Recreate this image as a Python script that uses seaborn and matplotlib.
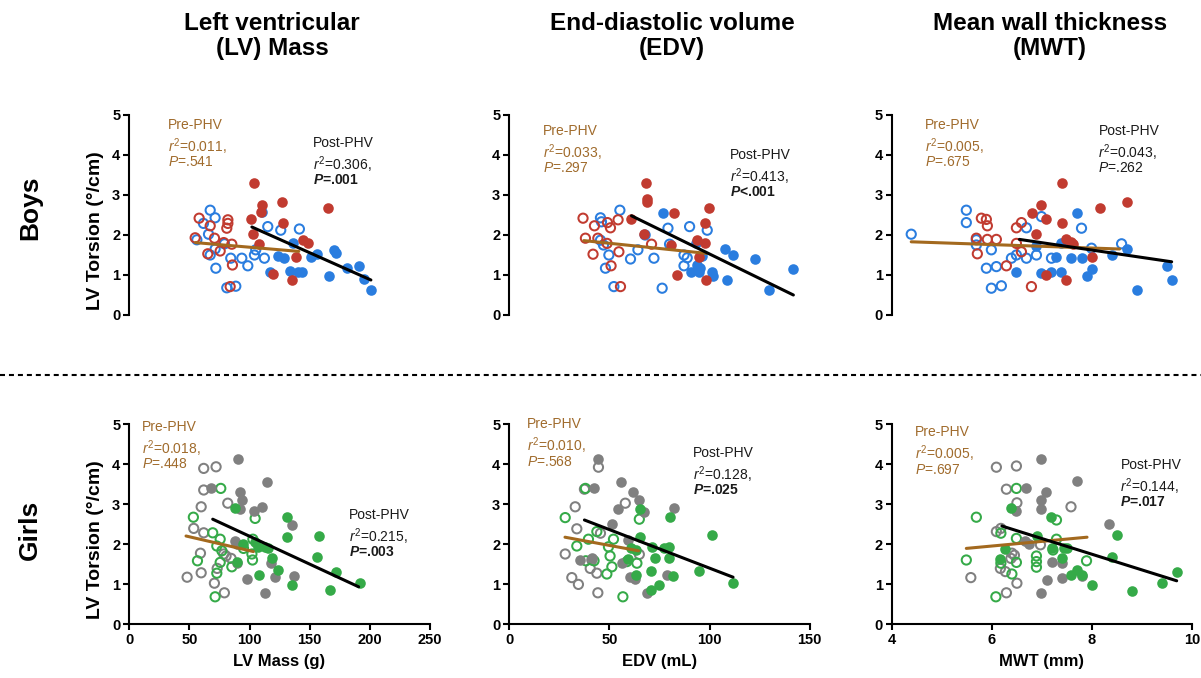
import seaborn as sns
import matplotlib.pyplot as plt
import pandas as pd
from matplotlib.lines import Line2D

sns.set_style("ticks")
plt.rcParams['font.family'] = ['Liberation Sans', 'DejaVu Sans']
plt.rcParams['text.color'] = 'black'
plt.rcParams['axes.labelcolor'] = 'black'
plt.rcParams['mathtext.fontset'] = 'custom'
plt.rcParams['mathtext.rm'] = 'Liberation Sans'
plt.rcParams['mathtext.it'] = 'Liberation Sans:italic'
plt.rcParams['mathtext.bf'] = 'Liberation Sans:bold'
plt.rcParams['mathtext.bfit'] = 'Liberation Sans:italic:bold'

# ---------------- data (x, LV torsion) ----------------
# Boys, LV mass (g)
bm_blue_pre = [(56.2, 1.88), (61.7, 2.29), (65.9, 2.02), (67.3, 2.62), (71.4, 2.43), (67.3, 1.5), (71.4, 1.65),
               (72, 1.17), (79.2, 1.78), (84.4, 1.42), (81.1, 0.68), (88.6, 0.72), (93.6, 1.42), (98.6, 1.23),
               (104.1, 1.5), (105.2, 1.63), (112.4, 1.42), (115.2, 2.21), (126, 2.12), (141.5, 2.15)]
bm_blue_post = [(110.7, 2.58), (117.1, 1.08), (124, 1.48), (129, 1.43), (133.7, 1.1), (136.5, 1.79), (140.6, 1.07),
                (143.4, 1.07), (151, 1.45), (156, 1.52), (166, 0.98), (170, 1.63), (172, 1.55), (181, 1.17),
                (191, 1.22), (195, 0.89), (201, 0.62)]
bm_red_pre = [(58.1, 2.42), (54.8, 1.93), (67.3, 2.23), (65.3, 1.53), (70.9, 1.92), (75.6, 1.6), (78.6, 1.81),
              (82, 2.38), (82, 2.29), (81.1, 2.17), (85.3, 1.77), (85.8, 1.25), (83.9, 0.71)]
bm_red_post = [(103.8, 3.29), (110.2, 2.75), (109.6, 2.57), (101.3, 2.4), (126.8, 2.83), (127.6, 2.31), (103.2, 2.02),
               (108, 1.77), (119.9, 1.02), (135.1, 0.875), (138.7, 1.46), (144.8, 1.88), (148.4, 1.81), (165.5, 2.68)]
bm_pre_fit_x, bm_pre_fit_y = [55, 141], [1.81, 1.59]
bm_post_fit_x, bm_post_fit_y = [102, 201], [2.2, 0.875]

# Boys, EDV (mL)
be_blue_pre = [(45.5, 2.43), (46, 2.33), (55.2, 2.62), (79.2, 2.17), (90, 2.21), (98.8, 2.12), (67.8, 2.0),
               (80, 1.77), (64.2, 1.63), (60.5, 1.4), (72.2, 1.42), (49.7, 1.5), (48, 1.17), (52.2, 0.71),
               (76.3, 0.67), (87.2, 1.5), (88.8, 1.43), (87.2, 1.23), (45.5, 1.87), (47, 1.75)]
be_blue_post = [(76.8, 2.56), (90.5, 1.07), (94.7, 1.08), (93.8, 1.25), (95.2, 1.17), (101.3, 1.07), (101.8, 0.98),
                (107.5, 1.64), (111.7, 1.5), (108.8, 0.875), (122.5, 1.39), (129.7, 0.625), (141.8, 1.14),
                (96, 1.47), (93, 1.79)]
be_red_pre = [(36.8, 2.42), (38, 1.92), (42.5, 2.23), (41.8, 1.52), (44.2, 1.92), (49, 2.31), (50.5, 2.18),
              (48.8, 1.79), (54.3, 2.38), (54.7, 1.58), (50.8, 1.23), (55.5, 0.71), (71, 1.77)]
be_red_post = [(60.5, 2.39), (68, 3.29), (68.5, 2.9), (68.5, 2.82), (82.2, 2.56), (99.8, 2.67), (97.7, 2.29),
               (93.5, 1.87), (97.7, 1.81), (94.7, 1.46), (83.8, 1.0), (98, 0.875), (67, 2.02), (80.5, 1.75)]
be_pre_fit_x, be_pre_fit_y = [37.2, 98.5], [1.86, 1.54]
be_post_fit_x, be_post_fit_y = [61, 141.8], [2.48, 0.5]

# Boys, MWT (mm)
bw_blue_pre = [(4.39, 2.02), (5.49, 2.62), (5.49, 2.31), (5.69, 1.88), (5.69, 1.75), (5.99, 1.63), (5.89, 1.17),
               (6.09, 1.21), (5.99, 0.67), (6.19, 0.73), (6.39, 1.42), (6.49, 1.5), (6.69, 1.42), (6.69, 2.18),
               (6.89, 1.5), (6.99, 2.46), (7.19, 1.42), (7.79, 2.17), (7.99, 1.67), (8.59, 1.78)]
bw_blue_post = [(6.49, 1.08), (6.99, 1.06), (7.19, 1.07), (7.39, 1.07), (7.29, 1.46), (7.59, 1.42), (7.79, 1.42),
                (7.69, 2.56), (7.89, 0.98), (7.99, 1.14), (7.39, 1.79), (6.89, 1.72), (8.39, 1.5), (8.69, 1.64),
                (9.49, 1.22), (9.59, 0.875), (8.89, 0.625)]
bw_red_pre = [(5.79, 2.42), (5.89, 2.39), (5.91, 2.23), (5.69, 1.92), (5.91, 1.89), (6.09, 1.89), (5.71, 1.53),
              (6.29, 1.23), (6.49, 2.18), (6.59, 2.31), (6.49, 1.79), (6.59, 1.58), (6.79, 0.71)]
bw_red_post = [(7.41, 3.29), (6.99, 2.75), (6.81, 2.56), (7.09, 2.39), (7.41, 2.31), (6.89, 2.02), (7.49, 1.89),
               (7.59, 1.83), (7.62, 1.78), (7.09, 1.0), (7.49, 0.875), (7.99, 1.46), (8.16, 2.67), (8.69, 2.83)]
bw_pre_fit_x, bw_pre_fit_y = [4.39, 8.55], [1.83, 1.65]
bw_post_fit_x, bw_post_fit_y = [6.55, 9.59], [1.89, 1.33]

# Girls, LV mass (g)
gm_gray_pre = [(61.9, 3.89), (72.2, 3.93), (61.9, 3.35), (59.8, 2.93), (53.6, 2.39), (61.9, 2.28), (81.9, 3.02),
               (59.2, 1.77), (59.8, 1.28), (48.1, 1.17), (73.1, 1.39), (70.8, 1.02), (79.1, 0.78), (78.6, 1.75),
               (84.7, 1.64), (80.5, 1.7)]
gm_gray_post = [(90.2, 4.12), (68.3, 3.39), (92.5, 3.31), (93.9, 3.1), (114.7, 3.56), (91.7, 2.87), (103.6, 2.83),
                (110.6, 2.92), (135.5, 2.48), (88.3, 2.08), (90, 2.0), (89.7, 1.52), (98.1, 1.12), (117.5, 1.53),
                (120.8, 1.17), (136.9, 1.2), (113.3, 0.77)]
gm_green_pre = [(53.3, 2.67), (56.7, 1.58), (69.4, 2.28), (75.6, 2.12), (76.1, 3.39), (72.8, 1.95), (77, 1.83),
                (75.6, 1.54), (72.8, 1.27), (71.4, 0.68), (85.3, 1.43), (104.7, 2.64), (102.8, 2.12), (102, 1.75),
                (102.5, 1.6), (95, 1.89)]
gm_green_post = [(88.3, 2.89), (131.4, 2.68), (131.4, 2.18), (157.5, 2.2), (156.4, 1.67), (104.2, 2.06), (107, 1.93),
                 (112.5, 1.92), (115.6, 1.91), (118.9, 1.64), (123.6, 1.35), (107.8, 1.22), (135, 0.98),
                 (172.2, 1.31), (166.7, 0.85), (191.7, 1.02), (95, 2.0), (90, 1.54)]
gm_pre_fit_x, gm_pre_fit_y = [47.2, 103.3], [2.2, 1.81]
gm_post_fit_x, gm_post_fit_y = [69.4, 190.8], [2.62, 0.93]

# Girls, EDV (mL)
ge_gray_pre = [(44.5, 3.92), (37.5, 3.37), (32.9, 2.93), (57.9, 3.02), (33.7, 2.38), (27.9, 1.75), (31.2, 1.16),
               (34.5, 0.99), (40.4, 1.39), (41.2, 1.6), (43.7, 1.27), (44.2, 0.78), (64.9, 1.74), (45.5, 2.27)]
ge_gray_post = [(44.5, 4.12), (42.3, 3.39), (55.9, 3.56), (61.5, 3.31), (64.5, 3.1), (54.2, 2.87), (67, 2.81),
                (82, 2.91), (51.2, 2.5), (35.3, 1.6), (56.5, 1.52), (60.3, 1.18), (62.9, 1.12), (78.7, 1.23),
                (68.7, 0.77), (59.2, 2.1), (41.2, 1.64)]
ge_green_pre = [(27.9, 2.66), (38, 3.39), (43.7, 2.31), (39.5, 2.12), (33.7, 1.95), (52, 2.12), (49.5, 1.93),
                (50.3, 1.7), (38.2, 1.58), (51.2, 1.43), (48.7, 1.25), (64.9, 2.62), (63.7, 1.52), (58.7, 1.56),
                (56.7, 0.68), (42.3, 1.58)]
ge_green_post = [(65.3, 2.87), (80.3, 2.68), (65.3, 2.18), (60.8, 1.89), (63.2, 1.85), (71.2, 1.92), (77, 1.89),
                 (79.5, 1.93), (72.8, 1.64), (79.8, 1.66), (59.2, 1.62), (70.8, 1.33), (63.2, 1.22), (81.7, 1.2),
                 (74.8, 0.98), (70.8, 0.85), (94.5, 1.33), (101.2, 2.22), (111.7, 1.02)]
ge_pre_fit_x, ge_pre_fit_y = [27.8, 64.5], [2.17, 1.83]
ge_post_fit_x, ge_post_fit_y = [37.5, 111.7], [2.6, 1.17]

# Girls, MWT (mm)
gw_gray_pre = [(6.09, 3.92), (6.49, 3.95), (6.29, 3.37), (6.5, 3.03), (6.09, 2.31), (6.18, 2.39), (5.58, 1.16),
               (6.17, 1.39), (6.27, 1.31), (6.29, 0.78), (6.5, 1.02), (6.4, 1.77), (6.38, 1.64), (7.58, 2.93),
               (6.97, 1.98), (6.45, 1.72)]
gw_gray_post = [(6.98, 4.12), (6.69, 3.39), (7.09, 3.31), (6.98, 3.1), (7.69, 3.58), (6.49, 2.83), (6.98, 2.87),
                (8.33, 2.5), (6.66, 2.07), (6.75, 2.0), (7.2, 1.56), (7.4, 1.53), (7.8, 1.2), (7.1, 1.1),
                (7.4, 1.15), (6.98, 0.77)]
gw_green_pre = [(5.69, 2.67), (5.49, 1.6), (6.08, 0.68), (6.49, 3.39), (6.49, 2.14), (6.18, 2.27), (6.49, 1.54),
                (6.18, 1.52), (6.89, 1.7), (6.89, 1.56), (6.89, 1.42), (7.29, 2.6), (7.29, 2.12), (7.89, 1.58),
                (6.4, 1.25), (7.22, 1.85)]
gw_green_post = [(6.38, 2.89), (7.19, 2.68), (6.27, 1.87), (6.9, 2.2), (7.2, 1.9), (7.45, 1.89), (7.5, 1.9),
                 (7.4, 1.64), (7.58, 1.22), (7.69, 1.35), (8.0, 0.98), (6.17, 1.62), (8.4, 1.67), (8.5, 2.22),
                 (8.8, 0.83), (9.4, 1.02), (9.7, 1.31), (7.8, 1.22)]
gw_pre_fit_x, gw_pre_fit_y = [5.49, 7.9], [1.89, 2.17]
gw_post_fit_x, gw_post_fit_y = [6.2, 9.69], [2.45, 1.08]

# stats text
pre_r2 = ["0.011", "0.033", "0.005", "0.018", "0.010", "0.005"]
pre_p = ["=.541", "=.297", "=.675", "=.448", "=.568", "=.697"]
post_r2 = ["0.306", "0.413", "0.043", "0.215", "0.128", "0.144"]
post_p = ["=.001", "<.001", "=.262", "=.003", "=.025", "=.017"]
post_sig = [True, True, False, True, True, True]

col_titles = ["Left ventricular\n(LV) Mass", "End-diastolic volume\n(EDV)", "Mean wall thickness\n(MWT)"]
x_labels = ["LV Mass (g)", "EDV (mL)", "MWT (mm)"]
x_limits = [(0, 250), (0, 150), (4, 10)]
x_ticks = [[0, 50, 100, 150, 200, 250], [0, 50, 100, 150], [4, 6, 8, 10]]
row_labels = ["Boys", "Girls"]

# ---------------- styling ----------------
BLUE, RED = "#2a7ddf", "#c13b30"
GRAY, GREEN = "#808080", "#35aa48"
BROWN, BROWN_TXT = "#a3691e", "#a06b2c"

W, H = 1201, 678
fig = plt.figure(figsize=(W / 100, H / 100), dpi=100)


def px_axes(x0, ytop, w=300.5, h=200):
    return fig.add_axes([x0 / W, 1 - (ytop + h) / H, w / W, h / H])


def draw_points(ax, pts, color, filled):
    df = pd.DataFrame(pts, columns=["x", "y"])
    if filled:
        sns.scatterplot(data=df, x="x", y="y", ax=ax, color=color, edgecolor=color, s=58,
                        linewidth=0, zorder=2, clip_on=False)
    else:
        sns.scatterplot(data=df, x="x", y="y", ax=ax, color=color, facecolor="none", edgecolor=color,
                        s=44, linewidth=1.45, zorder=2, clip_on=False)


def stat_block(ax, fx, fy, lines, color, bold_last=False):
    for i, line in enumerate(lines):
        weight = "bold" if (bold_last and i == len(lines) - 1) else "normal"
        ax.annotate(line, xy=(fx, fy), xycoords="axes fraction", xytext=(0, -13.5 * i),
                    textcoords="offset points", ha="left", va="top", fontsize=10,
                    color=color, fontweight=weight)


panels = [
    (bm_blue_pre, bm_blue_post, bm_red_pre, bm_red_post, bm_pre_fit_x, bm_pre_fit_y, bm_post_fit_x, bm_post_fit_y),
    (be_blue_pre, be_blue_post, be_red_pre, be_red_post, be_pre_fit_x, be_pre_fit_y, be_post_fit_x, be_post_fit_y),
    (bw_blue_pre, bw_blue_post, bw_red_pre, bw_red_post, bw_pre_fit_x, bw_pre_fit_y, bw_post_fit_x, bw_post_fit_y),
    (gm_gray_pre, gm_gray_post, gm_green_pre, gm_green_post, gm_pre_fit_x, gm_pre_fit_y, gm_post_fit_x, gm_post_fit_y),
    (ge_gray_pre, ge_gray_post, ge_green_pre, ge_green_post, ge_pre_fit_x, ge_pre_fit_y, ge_post_fit_x, ge_post_fit_y),
    (gw_gray_pre, gw_gray_post, gw_green_pre, gw_green_post, gw_pre_fit_x, gw_pre_fit_y, gw_post_fit_x, gw_post_fit_y),
]

col_x0 = [129.3, 509.3, 891.7]
row_top = [115, 424]
# where the text blocks sit (axes fraction): pre-PHV, post-PHV
pre_pos = [(0.129, 0.985), (0.112, 0.955), (0.111, 0.985), (0.042, 1.02), (0.059, 1.035), (0.078, 0.995)]
post_pos = [(0.61, 0.895), (0.735, 0.835), (0.688, 0.955), (0.732, 0.58), (0.612, 0.89), (0.761, 0.83)]

for k, (a_pre, a_post, b_pre, b_post, pfx, pfy, qfx, qfy) in enumerate(panels):
    row, col = divmod(k, 3)
    ax = px_axes(col_x0[col], row_top[row])
    c1, c2 = (BLUE, RED) if row == 0 else (GRAY, GREEN)

    draw_points(ax, a_pre, c1, False)
    draw_points(ax, b_pre, c2, False)
    draw_points(ax, a_post, c1, True)
    draw_points(ax, b_post, c2, True)

    sns.lineplot(x=pfx, y=pfy, ax=ax, color=BROWN, linewidth=2.2, sort=False, estimator=None, zorder=3)
    sns.lineplot(x=qfx, y=qfy, ax=ax, color="black", linewidth=2.2, sort=False, estimator=None, zorder=4)

    ax.set_xlim(*x_limits[col])
    ax.set_ylim(0, 5)
    ax.set_yticks([0, 1, 2, 3, 4, 5])
    ax.tick_params(width=1.5, length=4.5, labelsize=10.5, pad=2, colors="black")
    for sp in ax.spines.values():
        sp.set_linewidth(1.5)
        sp.set_color("black")
    if row == 0:
        sns.despine(ax=ax, bottom=True)
        ax.set_xticks([])
        ax.set_xlabel("")
    else:
        sns.despine(ax=ax)
        ax.set_xticks(x_ticks[col])
        ax.set_xlabel(x_labels[col], fontsize=12, fontweight="bold", labelpad=5)
    plt.setp(ax.get_xticklabels() + ax.get_yticklabels(), fontweight="bold")
    if col == 0:
        ax.set_ylabel("LV Torsion (°/cm)", fontsize=14, fontweight="bold")
        ax.yaxis.set_label_coords(-0.085, 0.42)
    else:
        ax.set_ylabel("")

    stat_block(ax, *pre_pos[k], ["Pre-PHV", "$r^2$=" + pre_r2[k] + ",", "$P$" + pre_p[k]], BROWN_TXT)
    p_line = ("$\\mathbfit{P}$" if post_sig[k] else "$P$") + post_p[k]
    stat_block(ax, *post_pos[k], ["Post-PHV", "$r^2$=" + post_r2[k] + ",", p_line], "#1a1a1a",
               bold_last=post_sig[k])

# column titles and row labels
title_x = [272, 672, 1050]
for t, tx in zip(col_titles, title_x):
    fig.text(tx / W, 1 - 36 / H, t, ha="center", va="center", fontsize=17.5, fontweight="bold",
             linespacing=1.15)
for lab, ly in zip(row_labels, [208, 530]):
    fig.text(30 / W, 1 - ly / H, lab, ha="center", va="center", rotation=90, fontsize=19, fontweight="bold")

# dashed separator between the rows
fig.add_artist(Line2D([0, 1], [1 - 375 / H, 1 - 375 / H], transform=fig.transFigure, color="black",
                      linewidth=1.5, linestyle=(0, (2.4, 1.9))))

fig.savefig("out.png", dpi=100)
